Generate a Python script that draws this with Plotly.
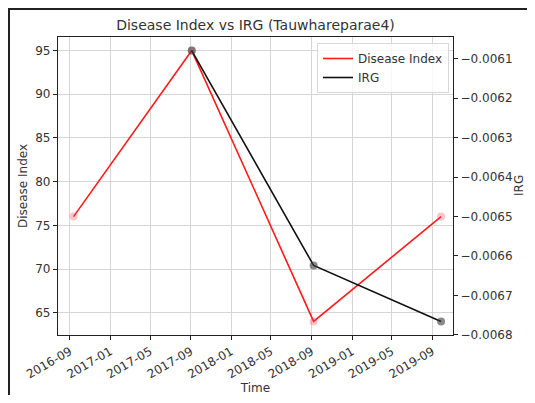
import plotly.graph_objects as go

# Data
di_dates = ["2016-09-12", "2017-09-04", "2018-09-07", "2019-09-27"]
di_values = [76, 95, 64, 76]
irg_dates = ["2017-09-04", "2018-09-07", "2019-09-27"]
irg_values = [-0.006079, -0.006624, -0.006766]
x_tickvals = ["2016-09-01", "2017-01-01", "2017-05-01", "2017-09-01", "2018-01-01",
              "2018-05-01", "2018-09-01", "2019-01-01", "2019-05-01", "2019-09-01"]
x_ticktext = ["2016-09", "2017-01", "2017-05", "2017-09", "2018-01",
              "2018-05", "2018-09", "2019-01", "2019-05", "2019-09"]
y_ticks = [65, 70, 75, 80, 85, 90, 95]
y2_ticks = [-0.0061, -0.0062, -0.0063, -0.0064, -0.0065, -0.0066, -0.0067, -0.0068]

# page body has an 8px margin on every side; work in page pixels and convert
OFF = 8
W, H = 535 - 2 * OFF, 403 - 2 * OFF
L, R, T, B = 58 - OFF, 453 - OFF, 37 - OFF, 335 - OFF
FONT = "DejaVu Sans"
TXT = "#333333"

fig = go.Figure()
fig.add_trace(go.Scatter(x=di_dates, y=di_values, mode="lines", name="Disease Index",
                         line=dict(color="#ff1a1a", width=1.6), yaxis="y"))
fig.add_trace(go.Scatter(x=di_dates, y=di_values, mode="markers", showlegend=False,
                         marker=dict(color="rgba(255,60,80,0.3)", size=8), yaxis="y"))
fig.add_trace(go.Scatter(x=irg_dates, y=irg_values, mode="lines", name="IRG",
                         line=dict(color="#111111", width=1.6), yaxis="y2"))
fig.add_trace(go.Scatter(x=irg_dates, y=irg_values, mode="markers", showlegend=False,
                         marker=dict(color="rgba(60,60,60,0.6)", size=8), yaxis="y2"))

px_w = R - L
px_h = B - T
def xp(page_px):
    return (page_px - OFF - L) / px_w
def yp(page_py):
    return (B - (page_py - OFF)) / px_h

fig.update_layout(
    width=W, height=H,
    margin=dict(l=L, r=W - R, t=T, b=H - B, autoexpand=False),
    paper_bgcolor="white", plot_bgcolor="white",
    font=dict(family=FONT, size=12, color=TXT),
    title=dict(text="Disease Index vs IRG (Tauwhareparae4)", x=xp(255.5), xref="paper",
               xanchor="center", y=1 - (25 - OFF) / H, yanchor="middle",
               font=dict(size=14, color=TXT)),
    xaxis=dict(
        type="date", range=["2016-07-27", "2019-11-02"], automargin=False,
        tickvals=x_tickvals, ticktext=x_ticktext, tickangle=-30,
        showgrid=True, gridcolor="#d6d6d6", gridwidth=1,
        showline=True, linecolor="#222222", linewidth=1.2, mirror=True,
        ticks="outside", ticklen=4, tickcolor="#222222",
        tickfont=dict(size=12),
        title=dict(text="Time", standoff=4, font=dict(size=12)), zeroline=False,
    ),
    yaxis=dict(
        range=[62.45, 96.55], tickvals=y_ticks, automargin=False,
        showgrid=True, gridcolor="#d6d6d6", gridwidth=1,
        showline=True, linecolor="#222222", linewidth=1.2,
        ticks="outside", ticklen=4, tickcolor="#222222",
        tickfont=dict(size=12), zeroline=False,
    ),
    yaxis2=dict(
        overlaying="y", side="right", automargin=False,
        range=[-0.0068004, -0.0060446], tickvals=y2_ticks, tickformat=".4f",
        showgrid=False, showline=True, linecolor="#222222", linewidth=1.2,
        ticks="outside", ticklen=4, tickcolor="#222222",
        tickfont=dict(size=12), zeroline=False,
    ),
    legend=dict(x=xp(449), xanchor="right", y=yp(43), yanchor="top",
                bgcolor="rgba(255,255,255,0.8)", bordercolor="#d8d8d8", borderwidth=1,
                font=dict(size=12, color=TXT), tracegroupgap=0,
                itemwidth=30),
    annotations=[
        dict(text="Disease Index", xref="paper", yref="paper", x=xp(23), y=0.5,
             textangle=-90, showarrow=False, xanchor="center", yanchor="middle",
             font=dict(size=12, color=TXT)),
        dict(text="IRG", xref="paper", yref="paper", x=xp(519), y=0.5,
             textangle=-90, showarrow=False, xanchor="center", yanchor="middle",
             font=dict(size=12, color=TXT)),
    ],
    shapes=[
        dict(type="line", xref="paper", yref="paper", x0=xp(7), x1=xp(540),
             y0=yp(OFF + 1), y1=yp(OFF + 1), line=dict(color="#222222", width=2)),
        dict(type="line", xref="paper", yref="paper", x0=xp(OFF + 1), x1=xp(OFF + 1),
             y0=yp(7), y1=yp(420), line=dict(color="#222222", width=2)),
    ],
)

fig.write_html("out.html")
